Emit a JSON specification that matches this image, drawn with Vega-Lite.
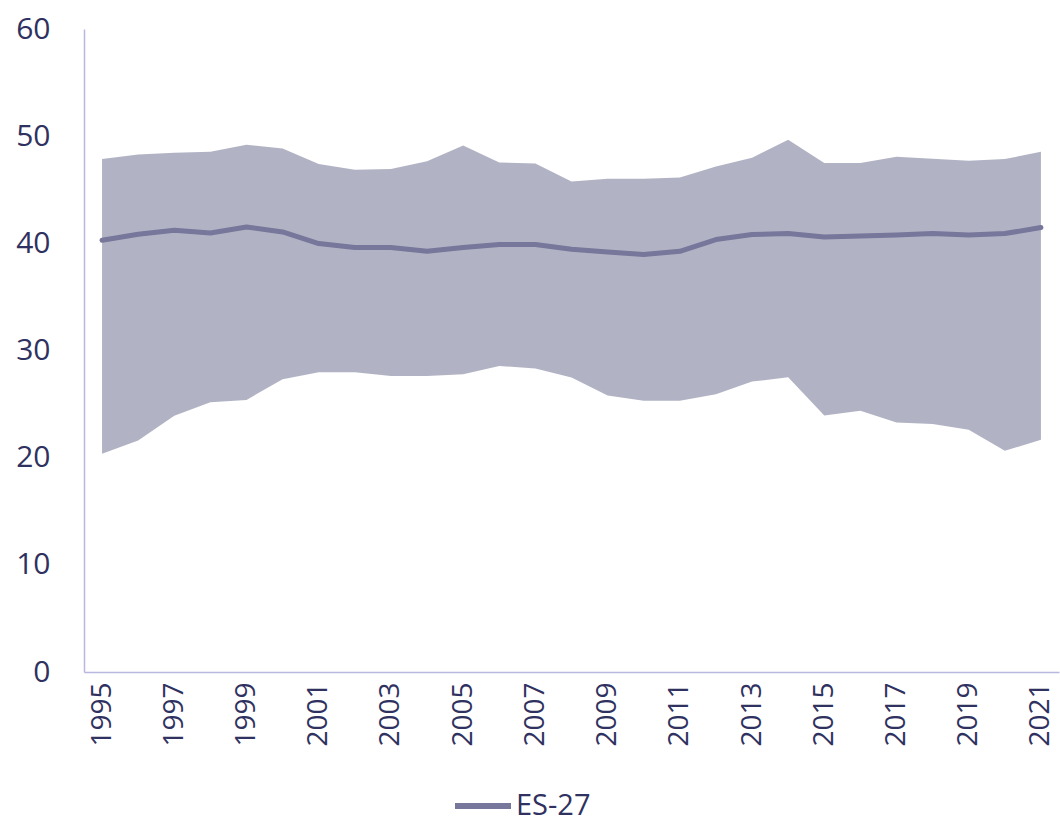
{
  "$schema": "https://vega.github.io/schema/vega-lite/v6.json",
  "width": 975,
  "height": 643,
  "autosize": {"type": "none"},
  "padding": {"left": 84, "top": 29, "right": 1, "bottom": 146},
  "background": "white",
  "config": {
    "view": {"stroke": null},
    "font": "Open Sans",
    "axis": {"labelFont": "Open Sans", "labelColor": "#2f3160", "labelFontWeight": "normal", "domainColor": "#b8b8e0", "domainWidth": 1.5, "ticks": false, "grid": false, "title": null}
  },
  "data": {
    "values": [
      {"year": 1995, "lo": 20.36, "mean": 40.29, "hi": 47.86},
      {"year": 1996, "lo": 21.6, "mean": 40.85, "hi": 48.3},
      {"year": 1997, "lo": 23.9, "mean": 41.22, "hi": 48.45},
      {"year": 1998, "lo": 25.18, "mean": 40.97, "hi": 48.55},
      {"year": 1999, "lo": 25.39, "mean": 41.53, "hi": 49.2},
      {"year": 2000, "lo": 27.32, "mean": 41.06, "hi": 48.85},
      {"year": 2001, "lo": 27.97, "mean": 39.98, "hi": 47.4},
      {"year": 2002, "lo": 27.97, "mean": 39.61, "hi": 46.87},
      {"year": 2003, "lo": 27.63, "mean": 39.61, "hi": 46.93},
      {"year": 2004, "lo": 27.63, "mean": 39.26, "hi": 47.67},
      {"year": 2005, "lo": 27.78, "mean": 39.61, "hi": 49.13},
      {"year": 2006, "lo": 28.56, "mean": 39.89, "hi": 47.55},
      {"year": 2007, "lo": 28.31, "mean": 39.89, "hi": 47.46},
      {"year": 2008, "lo": 27.47, "mean": 39.45, "hi": 45.78},
      {"year": 2009, "lo": 25.79, "mean": 39.2, "hi": 46.03},
      {"year": 2010, "lo": 25.3, "mean": 38.96, "hi": 46.03},
      {"year": 2011, "lo": 25.3, "mean": 39.26, "hi": 46.15},
      {"year": 2012, "lo": 25.92, "mean": 40.35, "hi": 47.18},
      {"year": 2013, "lo": 27.1, "mean": 40.82, "hi": 47.99},
      {"year": 2014, "lo": 27.5, "mean": 40.91, "hi": 49.66},
      {"year": 2015, "lo": 23.93, "mean": 40.6, "hi": 47.49},
      {"year": 2016, "lo": 24.37, "mean": 40.69, "hi": 47.49},
      {"year": 2017, "lo": 23.28, "mean": 40.78, "hi": 48.08},
      {"year": 2018, "lo": 23.13, "mean": 40.91, "hi": 47.89},
      {"year": 2019, "lo": 22.6, "mean": 40.78, "hi": 47.71},
      {"year": 2020, "lo": 20.64, "mean": 40.91, "hi": 47.86},
      {"year": 2021, "lo": 21.67, "mean": 41.47, "hi": 48.55}
    ]
  },
  "encoding": {
    "x": {
      "field": "year",
      "type": "quantitative",
      "scale": {"domain": [1994.5, 2021.5], "nice": false, "zero": false},
      "axis": {
        "values": [1995, 1997, 1999, 2001, 2003, 2005, 2007, 2009, 2011, 2013, 2015, 2017, 2019, 2021],
        "format": "d",
        "labelAngle": -90,
        "labelFontSize": 28,
        "labelPadding": 10,
        "labelOverlap": false,
        "labelFlush": false
      }
    }
  },
  "layer": [
    {
      "mark": {"type": "area", "color": "#b1b3c4", "opacity": 1},
      "encoding": {
        "y": {
          "field": "lo",
          "type": "quantitative",
          "scale": {"domain": [0, 60], "nice": false},
          "axis": {"values": [0, 10, 20, 30, 40, 50, 60], "labelFontSize": 30, "labelPadding": 34, "labelFlush": false}
        },
        "y2": {"field": "hi"}
      }
    },
    {
      "mark": {"type": "line", "strokeWidth": 5, "strokeCap": "round", "strokeJoin": "round"},
      "encoding": {
        "y": {"field": "mean", "type": "quantitative"},
        "color": {
          "datum": "ES-27",
          "type": "nominal",
          "scale": {"range": ["#77769b"]},
          "legend": {
            "title": null,
            "orient": "none",
            "legendX": 368,
            "legendY": 746,
            "symbolType": "stroke",
            "symbolSize": 3136,
            "symbolStrokeWidth": 6,
            "labelFontSize": 29,
            "labelColor": "#2f3160",
            "labelFont": "Open Sans",
            "labelOffset": 2
          }
        }
      }
    }
  ]
}
